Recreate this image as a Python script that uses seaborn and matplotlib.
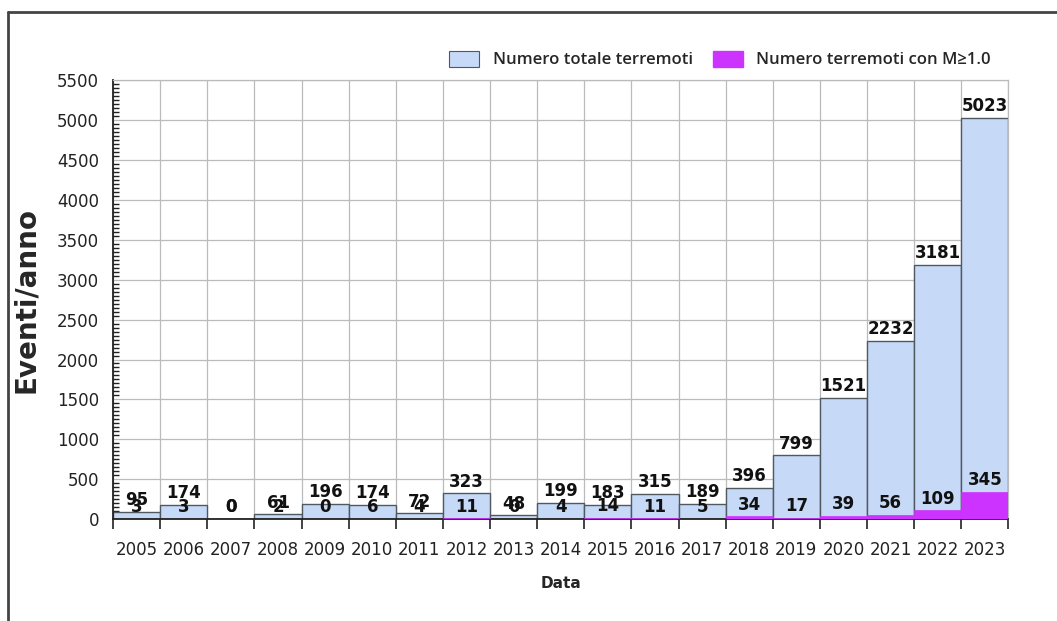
import numpy as np
import pandas as pd
import matplotlib
matplotlib.use("Agg")
import matplotlib.pyplot as plt
import seaborn as sns
from matplotlib.lines import Line2D
from matplotlib.patches import Patch
from matplotlib.ticker import MultipleLocator, FixedLocator

# =============================================================================
# DATI
# =============================================================================
anni = [str(a) for a in range(2005, 2024)]
totale_terremoti = [95, 174, 0, 61, 196, 174, 72, 323, 48, 199, 183, 315, 189,
                    396, 799, 1521, 2232, 3181, 5023]
terremoti_m1 = [3, 3, 0, 2, 0, 6, 4, 11, 0, 4, 14, 11, 5, 34, 17, 39, 56, 109, 345]

etichetta_totale = "Numero totale terremoti"
etichetta_m1 = "Numero terremoti con M\u22651.0"

COLORE_TOTALE = "#C6D9F7"
COLORE_M1 = "#CC33FF"
COLORE_BORDO = "#505860"

df = pd.DataFrame({"Data": anni, "totale": totale_terremoti, "m1": terremoti_m1})

sns.set_style("white")
plt.rcParams["font.family"] = "sans-serif"
plt.rcParams["font.sans-serif"] = ["DejaVu Sans"]

fig = plt.figure(figsize=(10.57, 6.21), dpi=100)
ax = fig.add_axes([0.107, 0.164, 0.847, 0.707])

sns.barplot(data=df, x="Data", y="totale", color=COLORE_TOTALE, width=1.0,
            edgecolor=COLORE_BORDO, linewidth=1.0, saturation=1, ax=ax, zorder=2)
sns.barplot(data=df, x="Data", y="m1", color=COLORE_M1, width=1.0,
            edgecolor=COLORE_M1, linewidth=0.5, saturation=1, ax=ax, zorder=3)

# Etichette sulle barre (sovrapposte come nell'originale per le barre basse)
ax.bar_label(ax.containers[0], labels=[str(v) for v in totale_terremoti],
             padding=2, fontsize=12, fontweight="bold", color="#111111", zorder=5)
ax.bar_label(ax.containers[1], labels=[str(v) for v in terremoti_m1],
             padding=2, fontsize=12, fontweight="bold", color="#111111", zorder=5)

# Assi
ax.set_xlim(-0.5, len(anni) - 0.5)
ax.set_ylim(0, 5500)
ax.yaxis.set_major_locator(MultipleLocator(500))
ax.yaxis.set_minor_locator(MultipleLocator(50))
ax.xaxis.set_minor_locator(FixedLocator(np.arange(-0.5, len(anni), 1.0)))

ax.tick_params(axis="y", which="major", direction="inout", length=8, width=1.2,
               labelsize=12, colors="#222222", pad=6)
ax.tick_params(axis="y", which="minor", direction="in", length=4, width=1.0,
               colors="#222222", left=True)
ax.tick_params(axis="x", which="major", direction="out", length=4, width=1.0,
               labelsize=12, colors="#222222", pad=12)
ax.tick_params(axis="x", which="minor", direction="out", length=7, width=1.2,
               colors="#222222", bottom=True)

ax.grid(True, axis="y", which="major", color="#BBBBBB", linewidth=0.9, zorder=0)
ax.grid(True, axis="x", which="minor", color="#BBBBBB", linewidth=0.9, zorder=0)
ax.set_axisbelow(True)

for lato in ["top", "right"]:
    ax.spines[lato].set_color("#BBBBBB")
    ax.spines[lato].set_linewidth(0.9)
for lato in ["left", "bottom"]:
    ax.spines[lato].set_color("#222222")
    ax.spines[lato].set_linewidth(1.3)

ax.set_xlabel("Data", fontsize=11, fontweight="bold", labelpad=12)
ax.set_ylabel("Eventi/anno", fontsize=20, fontweight="bold", labelpad=12)

# Legenda
maniglie = [Patch(facecolor=COLORE_TOTALE, edgecolor=COLORE_BORDO, linewidth=0.8),
            Patch(facecolor=COLORE_M1, edgecolor=COLORE_M1)]
ax.legend(maniglie, [etichetta_totale, etichetta_m1], ncol=2, frameon=False,
          loc="lower right", bbox_to_anchor=(0.993, 1.0), borderaxespad=0.3,
          handlelength=1.8, handleheight=1.1, columnspacing=1.2,
          prop={"family": "Open Sans", "weight": "semibold", "size": 12})

# Cornice esterna
fig.add_artist(Line2D([8 / 1057, 1.0], [1 - 12 / 621, 1 - 12 / 621],
                      color="#444444", linewidth=2, transform=fig.transFigure))
fig.add_artist(Line2D([8 / 1057, 8 / 1057], [0.0, 1 - 12 / 621],
                      color="#444444", linewidth=2, transform=fig.transFigure))

fig.savefig("out.png", dpi=100)
